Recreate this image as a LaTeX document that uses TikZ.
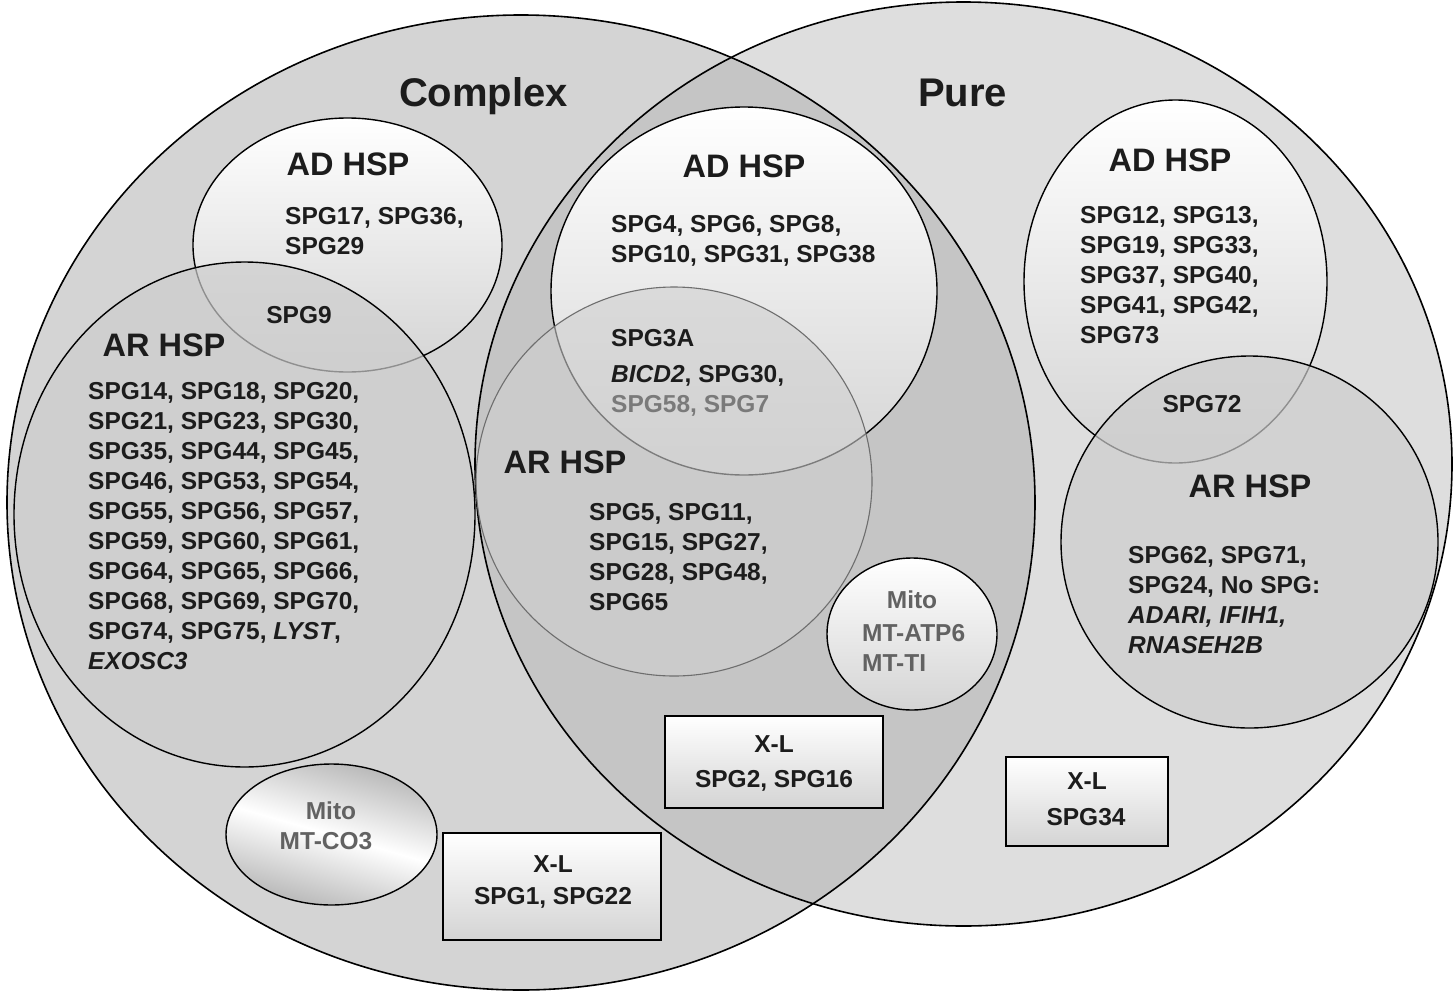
\documentclass[tikz,border=0pt]{standalone}
\usepackage{fontspec}
\setmainfont{Liberation Sans}
\usepackage{tikz}
\definecolor{complexbg}{HTML}{D4D4D4}
\definecolor{purebg}{HTML}{DEDEDE}
\definecolor{bothbg}{HTML}{C5C5C5}
\definecolor{adlow}{HTML}{D4D4D4}
\definecolor{arfill}{HTML}{CDCDCD}
\definecolor{armid}{HTML}{D0D0D0}
\definecolor{mitodark}{HTML}{B6B6B6}
\definecolor{ink}{HTML}{1C1C1C}
\definecolor{softink}{HTML}{7A7A7A}
\definecolor{mitoink}{HTML}{626262}
\definecolor{ringgray}{HTML}{6E6E6E}
\tikzset{%
    setline/.style={draw=black, line width=1.6pt},
    subline/.style={draw=black, line width=1.4pt},
    ringline/.style={draw=ringgray, line width=1.1pt},
    adshade/.style={top color=white, bottom color=adlow},
    arshade/.style={fill=arfill, fill opacity=0.7},
    armidshade/.style={fill=armid, fill opacity=0.6},
    boxshade/.style={top color=white, bottom color=adlow},
    metalshade/.style={top color=mitodark, bottom color=mitodark, middle color=white, shading angle=-16},
    lbl/.style={font=\bfseries\fontsize{24.5}{30}\selectfont, text=ink, inner sep=0pt},
    lst/.style={lbl, align=left, anchor=north west},
    hd/.style={font=\bfseries\fontsize{32.5}{36}\selectfont, text=ink, inner sep=0pt, anchor=base},
    ttl/.style={font=\bfseries\fontsize{40}{44}\selectfont, text=ink, inner sep=0pt, anchor=base}
}
\begin{document}
\begin{tikzpicture}[x=1pt, y=-1pt]
        \useasboundingbox (0,0) rectangle (1456,993);
        \coordinate (cplx) at (521,502.5);
        \coordinate (pure) at (963.5,464);
        \fill[complexbg] (cplx) ellipse [x radius=514pt, y radius=487.5pt];
        \fill[purebg] (pure) ellipse [x radius=488.5pt, y radius=462pt];
        \begin{scope}
            \clip (cplx) ellipse [x radius=514pt, y radius=487.5pt];
            \fill[bothbg] (pure) ellipse [x radius=488.5pt, y radius=462pt];
        \end{scope}
        \draw[setline] (cplx) ellipse [x radius=514pt, y radius=487.5pt];
        \draw[setline] (pure) ellipse [x radius=488.5pt, y radius=462pt];

        \draw[subline, adshade] (347.5,245) ellipse [x radius=154.5pt, y radius=127pt];
        \draw[subline, arshade] (244.5,514.5) ellipse [x radius=230.5pt, y radius=252.5pt];
        \draw[subline, metalshade] (331.5,834.5) ellipse [x radius=105.5pt, y radius=70.5pt];
        \draw[subline, boxshade] (443,833) rectangle (661,940);

        \draw[subline, adshade] (744,291) ellipse [x radius=193pt, y radius=184pt];
        \draw[ringline, armidshade] (674,481.5) ellipse [x radius=198pt, y radius=194.5pt];
        \draw[subline, adshade] (912,634) ellipse [x radius=85pt, y radius=76pt];
        \draw[subline, boxshade] (665,716) rectangle (883,808);

        \draw[subline, adshade] (1175.5,281.5) ellipse [x radius=151.5pt, y radius=181.5pt];
        \draw[subline, arshade] (1249.5,542) ellipse [x radius=188.5pt, y radius=186pt];
        \draw[subline, boxshade] (1006,757) rectangle (1168,846);

        \node[ttl] (cplxtitle) at (483.5,106) {Complex};
        \node[ttl] (puretitle) at (962.5,106) {Pure};

        \node[hd] (adLhead) at (348,175.5) {AD HSP};
        \node[lst] (adLlist) at (285,207) {SPG17, SPG36,\\SPG29};
        \node[lbl, anchor=base] (spgnine) at (299,323) {SPG9};
        \node[hd] (arLhead) at (164,356) {AR HSP};
        \node[lst] (arLlist) at (88,382) {SPG14, SPG18, SPG20,\\SPG21, SPG23, SPG30,\\SPG35, SPG44, SPG45,\\SPG46, SPG53, SPG54,\\SPG55, SPG56, SPG57,\\SPG59, SPG60, SPG61,\\SPG64, SPG65, SPG66,\\SPG68, SPG69, SPG70,\\SPG74, SPG75, \textit{LYST},\\\textit{EXOSC3}};
        \node[lbl, anchor=base, text=mitoink] (mitoLhead) at (331,819) {Mito};
        \node[lbl, anchor=base, text=mitoink] (mitoLlist) at (326,849) {MT-CO3};
        \node[lbl, anchor=base] (xlLhead) at (553,872) {X-L};
        \node[lbl, anchor=base] (xlLlist) at (553,904) {SPG1, SPG22};

        \node[hd] (adMhead) at (744,177) {AD HSP};
        \node[lst] (adMlist) at (611,215.5) {SPG4, SPG6, SPG8,\\SPG10, SPG31, SPG38};
        \node[lbl, anchor=base west] (spgthreeA) at (611,346.5) {SPG3A};
        \node[lst] (bothMlist) at (611,365) {\textit{BICD2}, SPG30,\\{\color{softink}SPG58, SPG7}};
        \node[hd] (arMhead) at (565,473) {AR HSP};
        \node[lst] (arMlist) at (589,503) {SPG5, SPG11,\\SPG15, SPG27,\\SPG28, SPG48,\\SPG65};
        \node[lbl, anchor=base, text=mitoink] (mitoMhead) at (912,608) {Mito};
        \node[lst, text=mitoink] (mitoMlist) at (862,624) {MT-ATP6\\MT-TI};
        \node[lbl, anchor=base] (xlMhead) at (774,752) {X-L};
        \node[lbl, anchor=base] (xlMlist) at (774,787) {SPG2, SPG16};

        \node[hd] (adRhead) at (1170,171) {AD HSP};
        \node[lst] (adRlist) at (1080,206) {SPG12, SPG13,\\SPG19, SPG33,\\SPG37, SPG40,\\SPG41, SPG42,\\SPG73};
        \node[lbl, anchor=base] (spgsevtwo) at (1202,412) {SPG72};
        \node[hd] (arRhead) at (1250,497) {AR HSP};
        \node[lst] (arRlist) at (1128,546) {SPG62, SPG71,\\SPG24, No SPG:\\\textit{ADARI, IFIH1,}\\\textit{RNASEH2B}};
        \node[lbl, anchor=base] (xlRhead) at (1087,789.5) {X-L};
        \node[lbl, anchor=base] (xlRlist) at (1086,825) {SPG34};
\end{tikzpicture}
\end{document}
